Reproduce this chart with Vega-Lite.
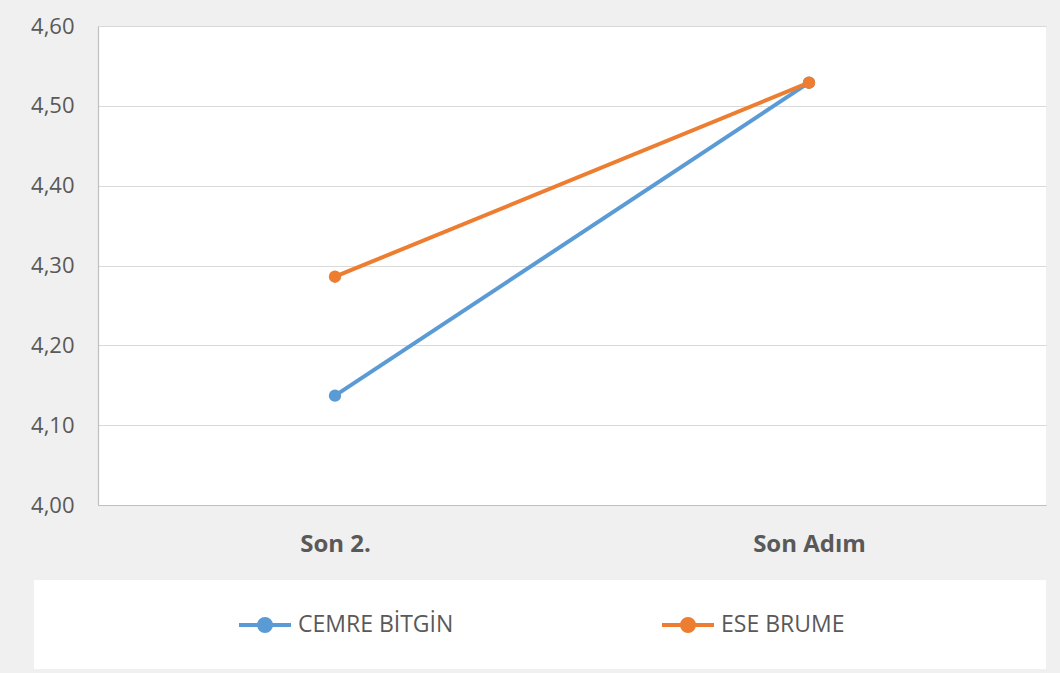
{
  "$schema": "https://vega.github.io/schema/vega-lite/v6.json",
  "autosize": "none",
  "width": 948,
  "height": 479,
  "padding": {"left": 98, "top": 26, "right": 14, "bottom": 168},
  "background": "#f0f0f0",
  "config": {
    "view": {"fill": "white", "stroke": null},
    "font": "Open Sans"
  },
  "data": {
    "values": [
      {"asama": "Son 2.", "kisi": "CEMRE BİTGİN", "puan": 4.137},
      {"asama": "Son Adım", "kisi": "CEMRE BİTGİN", "puan": 4.529},
      {"asama": "Son 2.", "kisi": "ESE BRUME", "puan": 4.286},
      {"asama": "Son Adım", "kisi": "ESE BRUME", "puan": 4.529}
    ]
  },
  "encoding": {
    "x": {
      "field": "asama",
      "type": "nominal",
      "sort": null,
      "scale": {"type": "point", "padding": 0.5},
      "axis": {
        "title": null,
        "labelAngle": 0,
        "labelFontSize": 24,
        "labelFontWeight": "bold",
        "labelColor": "#595959",
        "labelPadding": 27,
        "ticks": false,
        "domainColor": "#bfbfbf",
        "domainWidth": 1.2,
        "grid": false
      }
    },
    "y": {
      "field": "puan",
      "type": "quantitative",
      "scale": {"domain": [4, 4.6], "nice": false, "zero": false},
      "axis": {
        "title": null,
        "values": [4, 4.1, 4.2, 4.3, 4.4, 4.5, 4.6],
        "labelExpr": "replace(format(datum.value, '.2f'), '.', ',')",
        "labelFontSize": 22,
        "labelColor": "#595959",
        "labelPadding": 24,
        "ticks": false,
        "domainColor": "#bfbfbf",
        "domainWidth": 1.2,
        "grid": true,
        "gridColor": "#d9d9d9",
        "gridWidth": 1
      }
    },
    "color": {
      "field": "kisi",
      "type": "nominal",
      "scale": {"domain": ["CEMRE BİTGİN", "ESE BRUME"], "range": ["#5B9BD5", "#ED7D31"]},
      "legend": {
        "title": " ",
        "titleOrient": "right",
        "titlePadding": 172,
        "titleFontSize": 10,
        "orient": "none",
        "legendX": -64,
        "legendY": 554,
        "direction": "horizontal",
        "columns": 2,
        "gridAlign": "each",
        "fillColor": "white",
        "padding": 30,
        "symbolOffset": 186,
        "columnPadding": 33,
        "symbolType": "M-2,0H2M-0.46,0A0.46,0.46,0,1,1,0.46,0A0.46,0.46,0,1,1,-0.46,0Z",
        "symbolSize": 676,
        "symbolStrokeWidth": 4,
        "labelFontSize": 23,
        "labelColor": "#595959",
        "labelOffset": 18
      }
    }
  },
  "layer": [
    {"mark": {"type": "line", "strokeWidth": 4}},
    {"mark": {"type": "point", "filled": true, "size": 154, "opacity": 1}}
  ]
}
